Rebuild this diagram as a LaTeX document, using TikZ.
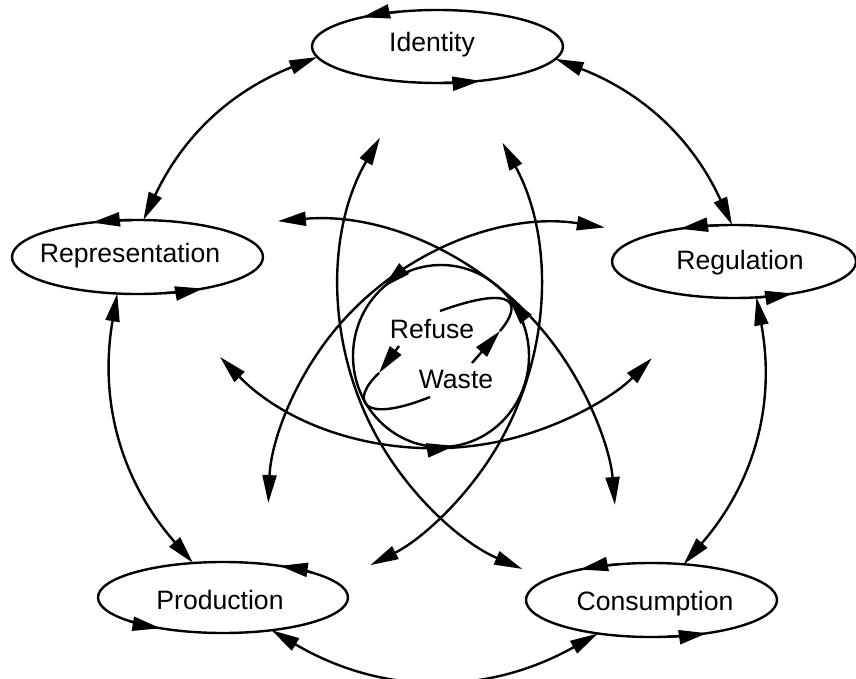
\documentclass[tikz,border=0pt]{standalone}
\usepackage{fontspec}
\setmainfont{Liberation Sans}
\usetikzlibrary{arrows.meta,shapes.geometric}
\newcommand\ringarrow[5]{\draw[->] (#1) ++(#4:#2 and #3) arc[start angle=#4, end angle=#5, x radius=#2, y radius=#3];}
\begin{document}
\begin{tikzpicture}[x=0.5pt,y=-0.5pt, line width=1.2pt,
  >={Triangle[length=14pt,width=7pt]},
  ell/.style={draw, ellipse, inner sep=0pt, outer sep=0pt},
  lbl/.style={font=\fontsize{13.3}{15}\selectfont, anchor=base, inner sep=0pt}]
\useasboundingbox (0,0) rectangle (856,679);

% ellipses
\node[ell, minimum width=125.5pt, minimum height=36.5pt] (id) at (437.5,46.5) {};
\node[ell, minimum width=125.5pt, minimum height=37pt] (rep) at (137.5,257) {};
\node[ell, minimum width=122pt, minimum height=36.5pt] (reg) at (734,261.5) {};
\node[ell, minimum width=125pt, minimum height=35.5pt] (prod) at (223,597.5) {};
\node[ell, minimum width=125.5pt, minimum height=37pt] (con) at (651.5,600) {};
\node[ell, minimum width=88pt, minimum height=91pt] (cir) at (441,356) {};

% labels
\node[lbl] (idt) at (432,52) {Identity};
\node[lbl] (rept) at (130,263) {Representation};
\node[lbl] (regt) at (740,270) {Regulation};
\node[lbl] (prodt) at (220,609) {Production};
\node[lbl] (cont) at (655,610) {Consumption};
\node[lbl] (reft) at (432,338) {Refuse};
\node[lbl] (wast) at (456,388) {Waste};

% arrows running round the ellipses
\ringarrow{id.center}{125.5}{36.5}{252}{233}
\ringarrow{id.center}{125.5}{36.5}{89}{70}
\ringarrow{rep.center}{125.5}{37}{267.7}{248.7}
\ringarrow{rep.center}{125.5}{37}{77.5}{58.5}
\ringarrow{reg.center}{122}{36.5}{262.7}{243.7}
\ringarrow{reg.center}{122}{36.5}{80}{61}
\ringarrow{prod.center}{125}{35.5}{316}{297}
\ringarrow{prod.center}{125}{35.5}{139}{120}
\ringarrow{con.center}{125.5}{37}{254.3}{235.3}
\ringarrow{con.center}{125.5}{37}{82.8}{63.8}
\ringarrow{cir.center}{88}{91}{249}{229}
\ringarrow{cir.center}{88}{91}{340}{320}
\ringarrow{cir.center}{88}{91}{100}{81}

% outer connectors
\draw[<->] (id.185) to[bend right=21.5] (rep.81);
\draw[<->] (id.354) to[bend left=22] (reg.93);
\draw[<->] (rep.241) to[bend right=25.5] (prod.131);
\draw[<->] (reg.302) to[bend left=25.6] (con.48);
\draw[<->] (prod.326) to[bend right=30] (con.212);

% inner petal arcs
\path (305,531) ++(265:311) coordinate (pA);
\draw[<->] (pA) arc[start angle=265, end angle=355.2, radius=311];
\path (560,516) ++(278.85:292) coordinate (pB);
\draw[<->] (pB) arc[start angle=278.85, end angle=182.54, radius=292];
\path (643,290) ++(210.1:304) coordinate (pC);
\draw[<->] (pC) arc[start angle=210.1, end angle=113.4, radius=304];
\path (232,290) ++(331.4:308) coordinate (pD);
\draw[<->] (pD) arc[start angle=331.4, end angle=423.3, radius=308];
\path (436.5,145) ++(135.6:303) coordinate (pE);
\draw[<->] (pE) arc[start angle=135.6, end angle=44.7, radius=303];

% refuse / waste loops
\coordinate (l1a) at (399,346); \coordinate (l1b) at (379,373); \coordinate (l1c) at (430,397);
\draw[->] (l1a) -- (l1b);
\draw (l1b) .. controls (350,400) and (360,425) .. (l1c);
\coordinate (l2a) at (472,363); \coordinate (l2b) at (500,331); \coordinate (l2c) at (440,311);
\draw[->] (l2a) -- (l2b);
\draw (l2b) .. controls (522,305) and (518,283) .. (l2c);
\end{tikzpicture}
\end{document}
